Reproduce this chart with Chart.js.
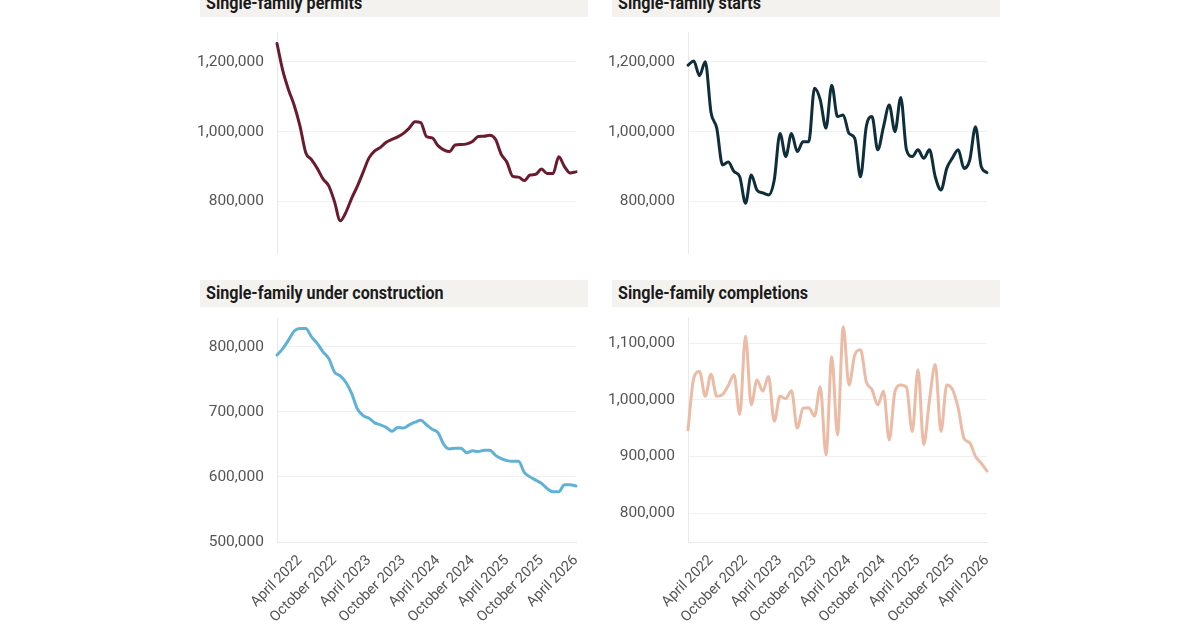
<!DOCTYPE html>
<html><head><meta charset="utf-8">
<script src="https://cdn.jsdelivr.net/npm/chart.js@4"></script>
<style>
html,body{margin:0;padding:0;background:#fff;width:1200px;height:628px;overflow:hidden;position:relative;font-family:Roboto,sans-serif}
.band{position:absolute;background:#f4f2ef;height:27px;width:388px}
.band span{position:absolute;left:6px;top:0;line-height:27px;font-weight:bold;font-size:18.5px;color:#1b1b1b;white-space:nowrap;transform:scaleX(0.87);transform-origin:0 50%}
canvas{position:absolute}
</style></head><body>
<div class="band" style="left:200px;top:-10px"><span>Single-family permits</span></div>
<div class="band" style="left:612px;top:-10px"><span>Single-family starts</span></div>
<div class="band" style="left:200px;top:280px"><span>Single-family under construction</span></div>
<div class="band" style="left:612px;top:280px"><span>Single-family completions</span></div>
<canvas id="c1" width="392" height="233" style="left:190px;top:26px;width:392px;height:233px"></canvas>
<canvas id="c2" width="392" height="233" style="left:601px;top:26px;width:392px;height:233px"></canvas>
<canvas id="c3" width="392" height="316" style="left:190px;top:312px;width:392px;height:316px"></canvas>
<canvas id="c4" width="392" height="317" style="left:601px;top:311px;width:392px;height:317px"></canvas>
<script>
const months = ["December 2021","January 2022","February 2022","March 2022","April 2022","May 2022","June 2022","July 2022","August 2022","September 2022","October 2022","November 2022","December 2022",
"January 2023","February 2023","March 2023","April 2023","May 2023","June 2023","July 2023","August 2023","September 2023","October 2023","November 2023","December 2023",
"January 2024","February 2024","March 2024","April 2024","May 2024","June 2024","July 2024","August 2024","September 2024","October 2024","November 2024","December 2024",
"January 2025","February 2025","March 2025","April 2025","May 2025","June 2025","July 2025","August 2025","September 2025","October 2025","November 2025","December 2025",
"January 2026","February 2026","March 2026","April 2026"];

const permits = [1252000,1175000,1120000,1075000,1016000,940000,920000,895000,865000,845000,800000,745000,770000,
810000,845000,885000,925000,945000,955000,970000,978000,985000,995000,1010000,1028000,
1026000,986000,982000,960000,948000,943000,962000,963000,965000,972000,986000,987000,
990000,978000,935000,912000,872000,870000,860000,876000,878000,893000,880000,880000,
928000,900000,882000,885000];

const starts = [1190000,1202000,1160000,1200000,1055000,1010000,905000,913000,886000,871000,795000,876000,833000,
825000,819000,862000,995000,929000,995000,943000,971000,971000,1124000,1091000,1010000,
1133000,1043000,1048000,995000,981000,871000,1014000,1043000,948000,1014000,1076000,1000000,
1098000,948000,929000,948000,924000,948000,871000,833000,895000,925000,948000,895000,
919000,1014000,900000,883000];

const underConstruction = [787000,797000,810000,824000,828000,828000,815000,805000,792000,782000,761000,755000,745000,
728000,704000,694000,690000,683000,680000,676000,670000,676000,675000,680000,684000,
687000,680000,673000,668000,650000,643000,644000,644000,637000,640000,639000,641000,
641000,633000,628000,625000,624000,624000,607000,600000,595000,590000,582000,577000,
577000,588000,588000,586000];

const completions = [947000,1038000,1050000,1006000,1045000,1006000,1009000,1025000,1044000,974000,1112000,991000,1035000,
1015000,1041000,962000,1006000,1002000,1016000,950000,985000,986000,971000,1023000,903000,
1076000,938000,1129000,1026000,1079000,1088000,1032000,1018000,991000,1015000,929000,1015000,
1026000,1022000,944000,1053000,921000,1000000,1062000,944000,1026000,1018000,985000,932000,
924000,900000,888000,874000];

const permitsTicks = [800000,1000000,1200000];
const startsTicks = [800000,1000000,1200000];
const underConstructionTicks = [500000,600000,700000,800000];
const completionsTicks = [800000,900000,1000000,1100000];
const xTickMonths = ["April","October"];

function makeChart(id, values, color, tickVals, min, max, showX) {
  return new Chart(document.getElementById(id), {
    type: 'line',
    data: { labels: months, datasets: [{ data: values, borderColor: color, borderWidth: 3,
      pointRadius: 0, cubicInterpolationMode: 'monotone', fill: false, clip: false,
      borderCapStyle: 'round', borderJoinStyle: 'round' }] },
    options: {
      responsive: false, animation: false, devicePixelRatio: 1,
      layout: { padding: { top: 6, right: 6, bottom: 6, left: 0 } },
      plugins: { legend: { display: false }, tooltip: { enabled: false } },
      scales: {
        x: {
          type: 'category', offset: false, display: showX,
          grid: { display: false },
          border: { display: true, color: '#e9e9e9' },
          afterBuildTicks: s => { s.ticks = s.ticks.filter(t => xTickMonths.includes(months[t.value].split(' ')[0])); },
          afterFit: s => { if (showX) { s.height = 80; } s.paddingLeft = 0; s.paddingRight = 0; },
          ticks: { autoSkip: false, minRotation: 45, maxRotation: 45, padding: 2,
            color: '#555', font: { family: 'Roboto, sans-serif', size: 14.5 },
            callback: function(v) { return months[v]; } }
        },
        y: {
          min: min, max: max,
          afterBuildTicks: s => { s.ticks = tickVals.map(v => ({ value: v })); },
          afterFit: s => { s.width = 87; s.paddingTop = 0; s.paddingBottom = 0; },
          grid: { color: '#f0f0f0', drawTicks: false },
          border: { display: true, color: '#e9e9e9' },
          ticks: { padding: 13, color: '#555',
            font: { family: 'Roboto, sans-serif', size: 15.5 },
            callback: v => v.toLocaleString('en-US') }
        }
      }
    }
  });
}
makeChart('c1', permits, '#6c1b2e', permitsTicks, 653000, 1285000, false);
makeChart('c2', starts, '#0f2e3b', startsTicks, 653000, 1285000, false);
makeChart('c3', underConstruction, '#5fb2d6', underConstructionTicks, 500000, 844000, true);
makeChart('c4', completions, '#ecbba5', completionsTicks, 749000, 1146000, true);
</script>
</body></html>
